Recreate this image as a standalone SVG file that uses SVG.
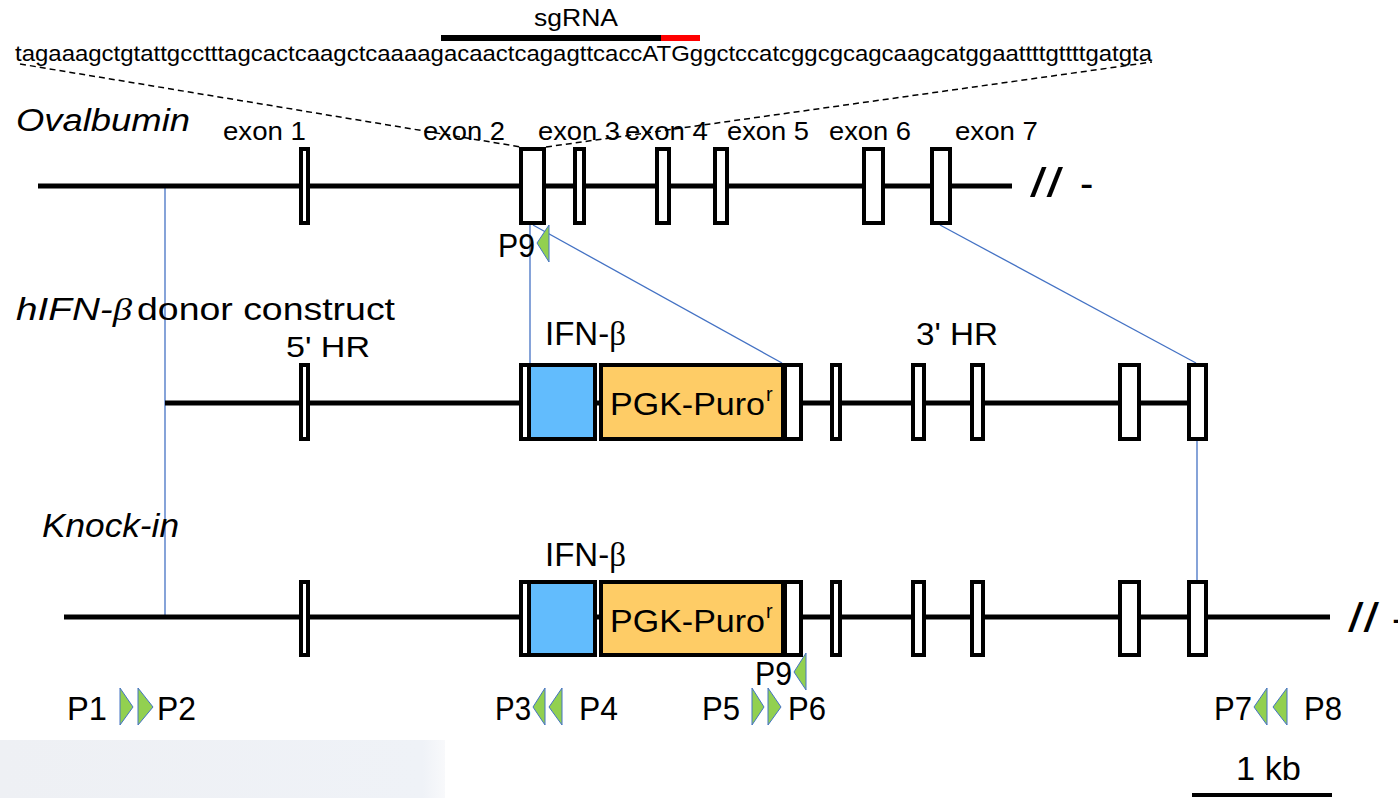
<svg xmlns="http://www.w3.org/2000/svg" width="1398" height="798" viewBox="0 0 1398 798">
<defs>
<style>
.t{font-family:"Liberation Sans",Arial,sans-serif;fill:#000}
.it{font-style:italic}
.bb{font-family:"Liberation Serif","Times New Roman",serif}
.ln{stroke:#000;stroke-width:5;fill:none}
.ex{fill:#fff;stroke:#000;stroke-width:4}
.con{stroke:#4472C4;stroke-width:1.3;fill:none}
.dash{stroke:#000;stroke-width:1.5;stroke-dasharray:6 4;fill:none}
.pr{fill:#92D050;stroke:#4472C4;stroke-width:1}
</style>
<linearGradient id="gp" x1="0" y1="0" x2="1" y2="0">
<stop offset="0" stop-color="#eef0f4"/>
<stop offset="0.95" stop-color="#eff2f7"/>
<stop offset="1" stop-color="#f8f9fb"/>
</linearGradient>
</defs>
<rect width="1398" height="798" fill="#fff"/>
<rect x="0" y="740" width="445" height="58" fill="url(#gp)"/>

<!-- sequence header -->
<g id="sgRNA">
<text class="t" x="534" y="26" font-size="23" textLength="84" lengthAdjust="spacingAndGlyphs">sgRNA</text>
<rect x="441" y="35" width="221" height="6" fill="#000"/>
<rect x="661" y="35" width="39" height="6" fill="#ff0000"/>
</g>
<g id="sequence">
<text class="t" x="15" y="61" font-size="22" textLength="1137" lengthAdjust="spacingAndGlyphs">tagaaagctgtattgcctttagcactcaagctcaaaagacaactcagagttcaccATGggctccatcggcgcagcaagcatggaattttgttttgatgta</text>
</g>

<!-- connectors -->
<g id="connectors">
<line class="dash" x1="20" y1="64" x2="521" y2="147"/>
<line class="dash" x1="546" y1="147" x2="1152" y2="62"/>
<line class="con" x1="165" y1="186" x2="165" y2="617"/>
<line class="con" x1="530" y1="225" x2="530" y2="363"/>
<line class="con" x1="533" y1="225" x2="782" y2="363"/>
<line class="con" x1="940" y1="225" x2="1196" y2="363"/>
<line class="con" x1="1197" y1="441" x2="1197" y2="580"/>
</g>

<!-- Ovalbumin locus -->
<g id="ovalbumin">
<text class="t it" x="16" y="131" font-size="31" textLength="174" lengthAdjust="spacingAndGlyphs">Ovalbumin</text>
<line class="ln" x1="38" y1="186" x2="1012" y2="186"/>
<rect class="ex" x="301" y="149" width="7" height="74"/>
<rect class="ex" x="521" y="149" width="23" height="74"/>
<rect class="ex" x="575" y="149" width="9" height="74"/>
<rect class="ex" x="657" y="149" width="12" height="74"/>
<rect class="ex" x="715" y="149" width="12" height="74"/>
<rect class="ex" x="864" y="149" width="19" height="74"/>
<rect class="ex" x="932" y="149" width="18" height="74"/>
<text class="t" x="223" y="140" font-size="25" textLength="83" lengthAdjust="spacingAndGlyphs">exon 1</text>
<text class="t" x="423" y="140" font-size="25" textLength="82" lengthAdjust="spacingAndGlyphs">exon 2</text>
<text class="t" x="538" y="140" font-size="25" textLength="82" lengthAdjust="spacingAndGlyphs">exon 3</text>
<text class="t" x="625" y="140" font-size="25" textLength="83" lengthAdjust="spacingAndGlyphs">exon 4</text>
<text class="t" x="727" y="140" font-size="25" textLength="82" lengthAdjust="spacingAndGlyphs">exon 5</text>
<text class="t" x="829" y="140" font-size="25" textLength="82" lengthAdjust="spacingAndGlyphs">exon 6</text>
<text class="t" x="955" y="140" font-size="25" textLength="83" lengthAdjust="spacingAndGlyphs">exon 7</text>
<text class="t" x="1030" y="197" font-size="40" textLength="33" lengthAdjust="spacingAndGlyphs">//</text>
<text class="t" x="1080" y="197" font-size="40">-</text>
</g>

<g id="primer-P9-top">
<text class="t" x="498" y="257" font-size="33" textLength="37" lengthAdjust="spacingAndGlyphs">P9</text>
<polygon class="pr" points="537,243 549,225 549,262"/>
</g>

<!-- donor construct -->
<g id="donor">
<text class="t it" x="16" y="320" font-size="32" textLength="116" lengthAdjust="spacingAndGlyphs">hIFN-<tspan class="bb">β</tspan></text>
<text class="t" x="137" y="320" font-size="31" textLength="258" lengthAdjust="spacingAndGlyphs">donor construct</text>
<text class="t" x="286" y="357" font-size="30" textLength="84" lengthAdjust="spacingAndGlyphs">5' HR</text>
<text class="t" x="545" y="345" font-size="33">IFN-<tspan class="bb">β</tspan></text>
<text class="t" x="916" y="345" font-size="32" textLength="82" lengthAdjust="spacingAndGlyphs">3' HR</text>
<line class="ln" x1="165" y1="403" x2="1189" y2="403"/>
<rect class="ex" x="301" y="365" width="7" height="74"/>
<rect class="ex" x="521" y="365" width="8" height="74"/>
<rect x="529" y="365" width="66" height="74" fill="#62BCFD" stroke="#000" stroke-width="4"/>
<rect x="601" y="365" width="182" height="74" fill="#FECC66" stroke="#000" stroke-width="4"/>
<rect class="ex" x="785" y="365" width="16" height="74"/>
<text class="t" x="610" y="415" font-size="32" textLength="155" lengthAdjust="spacingAndGlyphs">PGK-Puro</text>
<text class="t" x="766" y="401" font-size="20">r</text>
<rect class="ex" x="832" y="365" width="8" height="74"/>
<rect class="ex" x="913" y="365" width="11" height="74"/>
<rect class="ex" x="972" y="365" width="11" height="74"/>
<rect class="ex" x="1120" y="365" width="19" height="74"/>
<rect class="ex" x="1189" y="365" width="17" height="74"/>
</g>

<!-- knock-in -->
<g id="knockin">
<text class="t it" x="42" y="537" font-size="33" textLength="137" lengthAdjust="spacingAndGlyphs">Knock-in</text>
<text class="t" x="545" y="566" font-size="33">IFN-<tspan class="bb">β</tspan></text>
<line class="ln" x1="64" y1="617" x2="1330" y2="617"/>
<rect class="ex" x="301" y="582" width="7" height="73"/>
<rect class="ex" x="521" y="582" width="8" height="73"/>
<rect x="529" y="582" width="66" height="73" fill="#62BCFD" stroke="#000" stroke-width="4"/>
<rect x="601" y="582" width="182" height="73" fill="#FECC66" stroke="#000" stroke-width="4"/>
<rect class="ex" x="785" y="582" width="16" height="73"/>
<text class="t" x="610" y="632" font-size="32" textLength="155" lengthAdjust="spacingAndGlyphs">PGK-Puro</text>
<text class="t" x="766" y="618" font-size="20">r</text>
<rect class="ex" x="832" y="582" width="8" height="73"/>
<rect class="ex" x="913" y="582" width="11" height="73"/>
<rect class="ex" x="972" y="582" width="11" height="73"/>
<rect class="ex" x="1120" y="582" width="19" height="73"/>
<rect class="ex" x="1189" y="582" width="17" height="73"/>
<text class="t" x="1348" y="632" font-size="40" textLength="31" lengthAdjust="spacingAndGlyphs">//</text>
<text class="t" x="1392" y="632" font-size="40">-</text>
</g>

<!-- primers -->
<g id="primers">
<text class="t" x="67" y="720" font-size="33" textLength="40" lengthAdjust="spacingAndGlyphs">P1</text>
<polygon class="pr" points="120,688 133,707 120,725"/>
<polygon class="pr" points="138,688 153,707 138,725"/>
<text class="t" x="157" y="720" font-size="33" textLength="39" lengthAdjust="spacingAndGlyphs">P2</text>
<text class="t" x="495" y="720" font-size="33" textLength="36" lengthAdjust="spacingAndGlyphs">P3</text>
<polygon class="pr" points="533,707 545,688 545,725"/>
<polygon class="pr" points="549,707 562,688 562,725"/>
<text class="t" x="579" y="720" font-size="33" textLength="39" lengthAdjust="spacingAndGlyphs">P4</text>
<text class="t" x="755" y="685" font-size="33" textLength="37" lengthAdjust="spacingAndGlyphs">P9</text>
<polygon class="pr" points="794,672 806,653 806,690"/>
<text class="t" x="702" y="720" font-size="33" textLength="38" lengthAdjust="spacingAndGlyphs">P5</text>
<polygon class="pr" points="752,688 764,707 752,725"/>
<polygon class="pr" points="768,688 781,707 768,725"/>
<text class="t" x="788" y="720" font-size="33" textLength="38" lengthAdjust="spacingAndGlyphs">P6</text>
<text class="t" x="1214" y="720" font-size="33" textLength="38" lengthAdjust="spacingAndGlyphs">P7</text>
<polygon class="pr" points="1254,707 1267,688 1267,725"/>
<polygon class="pr" points="1273,707 1287,688 1287,725"/>
<text class="t" x="1304" y="720" font-size="33" textLength="38" lengthAdjust="spacingAndGlyphs">P8</text>
</g>

<g id="scale">
<text class="t" x="1236" y="780" font-size="33" textLength="65" lengthAdjust="spacingAndGlyphs">1 kb</text>
<line x1="1192" y1="795" x2="1332" y2="795" stroke="#000" stroke-width="4"/>
</g>
</svg>
